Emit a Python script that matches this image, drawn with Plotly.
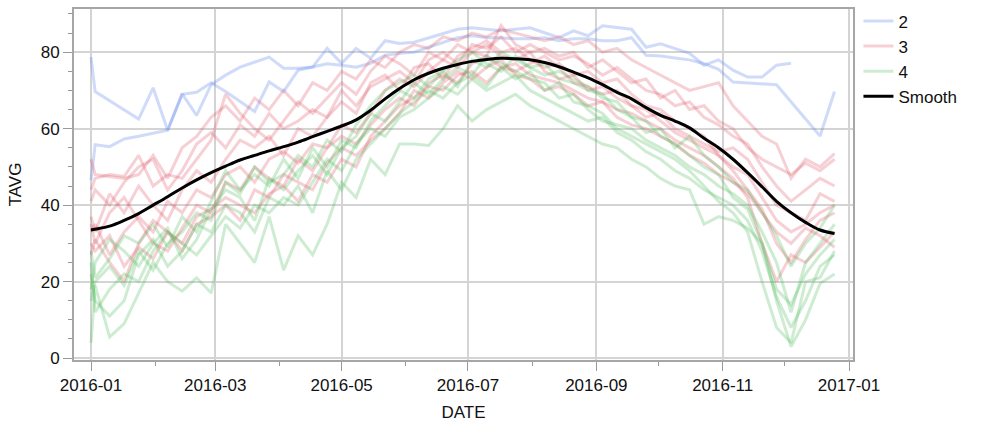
import datetime as dt
import plotly.graph_objects as go

# ---- dates: Jan 1 then weekly Sundays (Jan 3 .. Dec 25, 2016)
dates = [dt.date(2016, 1, 1)] + [dt.date(2016, 1, 3) + dt.timedelta(days=7 * i) for i in range(52)]

# ---- group 2 (blue)
blue_a = [78.7, 69.7, None, None, 62.5, 70.7, 59.6, 69.1, 63.5, 71.5,
          74, 76.1, None, 78.7, 75.8, 75.8, 76.1, 81, 77.1, 81,
          78.4, 83, 82.3, 82.6, 83.8, 84.8, 86, 86.4, 86, 85.6,
          86, 86.4, 85.1, 83.8, 85.6, 84.3, 86.9, 86.4, 86, 81.3,
          82.2, None, 79.7, 76.6, 78, 75.3, 73.5, 73.5, 76.6, 77.1,
          None, None, None]
blue_b = [46.5, 55.8, 55.3, 57.3, 58, None, 59.6, 69, 69.5, 72,
          69.7, 67.1, 64.5, 72.2, 69.7, 75.3, 76.1, 77, 76.6, 76.1,
          77.1, 79.2, 79.7, 80, 81.3, 82.6, 83.8, 84.3, 83.8, 83.8,
          83.5, 83.5, 83.8, 83, 83.5, 83.5, 83, 83, 83.8, 79.2,
          79, 78.5, 78, 77, 75.5, 72.2, None, None, 71.5, None,
          None, 58.1, 69.7]

# ---- group 3 (red)
red_1 = [52, 48, 47.5, 47, 48, 53, 47, 55, 58, 63,
         66, 62, 68, 65, 70, 66, 72, 70, 75, 73,
         78, 76, 80, 82, 81, 84, 83, 85, 84, 86,
         85, 84, 83, 84, 82, 83, 80, 81, 78, 76,
         74, 72, 70, 71, 72, 66, 62, 58, 56, 47,
         52, 50, 53.5]
red_2 = [44, 47, 48, 47.5, 53, 45, 48, 47, 52, 57,
         69, 64, 60, 57, 62, 67, 64, 68, 72, 69,
         75, 79, 77, 74, 80, 78, 82, 80, 79, 87,
         82, 80, 81, 79, 80, 76, 78, 75, 72, 73,
         68, 70, 65, 66, 62, 60, 55, 52, 50, 48,
         51, 49, 52]
red_3 = [37, 33, 43, 38, 45, 40, 36, 44, 49, 46,
         52, 57, 55, 58, 53, 60, 58, 63, 67, 64,
         72, 74, 70, 76, 77, 73, 79, 81, 83, 80,
         81, 78, 76, 77, 74, 75, 72, 73, 69, 66,
         65, 62, 60, 58, 53, 50, 48, 42, 36, 33,
         35, 38, 40]
red_4 = [33, 35, 27, 33, 37, 33, 41, 38, 44, 42,
         48, 50, 46, 52, 54, 51, 56, 55, 61, 59,
         64, 70, 73, 71, 75, 78, 76, 80, 82, 79,
         78, 80, 75, 73, 74, 70, 71, 68, 66, 65,
         62, 59, 57, 55, 53, 49, 44, 39, 30, 25,
         31, 36, 38]
red_5 = [30, 28, 32, 24, 29, 26, 33, 30, 37, 39,
         42, 40, 38, 43, 45, 41, 48, 46, 52, 50,
         58, 62, 66, 68, 71, 70, 74, 75, 72, 76,
         77, 74, 73, 72, 70, 68, 67, 65, 64, 62,
         60, 57, 55, 53, 50, 47, 42, 30, 20, 27,
         25, 29, 33]
red_6 = [35, 30, 38, 42, 36, 30, 28, 34, 40, 38,
         46, 44, 50, 47, 45, 52, 49, 55, 58, 56,
         61, 65, 68, 66, 72, 74, 72, 77, 79, 76,
         75, 77, 79, 76, 72, 71, 69, 70, 66, 63,
         64, 60, 58, 56, 54, 55, 52, 46, 40, 38,
         36, 43, 41]
red_7 = [41, 44, 40, 46, 50, 52, 44, 49, 56, 59,
         55, 61, 58, 64, 60, 62, 65, 63, 70, 66,
         71, 73, 75, 72, 78, 80, 77, 82, 81, 84,
         80, 82, 80, 78, 79, 77, 74, 76, 73, 70,
         69, 66, 67, 63, 61, 58, 56, 50, 45, 41,
         44, 47, 45]
red_8 = [27, 31, 25, 20, 30, 36, 33, 28, 35, 37,
         40, 36, 44, 42, 48, 46, 44, 51, 55, 53,
         57, 60, 64, 70, 68, 72, 75, 73, 76, 78,
         74, 73, 70, 71, 69, 66, 67, 63, 61, 60,
         58, 56, 53, 51, 48, 46, 43, 38, 33, 30,
         34, 32, 29]

# ---- group 4 (green)
green_1 = [4, 19, 5.5, 9, 17, 25, 20, 17.5, 21, 17,
           35, 30, 25, 37, 23, 32, 27, 35, 46, 42,
           52, 48, 56, 56, 55.6, 60, 66, 62, 65, 67,
           69, 66, 64, 62, 60, 58, 56, 55, 52, 50,
           47, 45, 44, 35, 37, 36, 34, 30, 15, 3,
           10, 19.5, 22]
green_2 = [22, 15, 11, 15, 27, 31, 24, 28, 35, 33,
           40, 38, 33, 42, 40, 45, 38, 49, 44, 52,
           56, 60, 64, 67, 70, 68, 72, 74, 71, 76,
           73, 75, 70, 72, 67, 66, 64, 60, 58, 56,
           54, 52, 49, 45, 41, 38, 33, 20, 8, 4,
           20, 21, 28]
green_3 = [28, 21, 26, 32, 30, 35, 29, 37, 33, 41,
           49, 44, 48, 45, 52, 47, 55, 50, 57, 55,
           62, 66, 70, 68, 73, 75, 71, 78, 76, 80,
           78, 76, 77, 73, 72, 70, 69, 65, 63, 62,
           58, 56, 53, 50, 48, 42, 39, 30, 18, 14,
           22, 27, 31]
green_4 = [18, 25, 31, 28, 24, 30, 34, 26, 31, 39,
           44, 42, 36, 47, 44, 49, 53, 48, 55, 58,
           64, 62, 67, 72, 69, 73, 76, 74, 79, 77,
           75, 73, 72, 68, 69, 65, 62, 61, 60, 57,
           55, 53, 50, 48, 45, 43, 40, 33, 25, 12,
           25, 30, 35]
green_5 = [25, 12, 18, 22, 20, 28, 33, 30, 27, 32,
           37, 34, 40, 38, 42, 40, 46, 52, 49, 56,
           60, 58, 63, 65, 68, 71, 69, 73, 70, 72,
           74, 70, 68, 66, 64, 62, 63, 59, 57, 54,
           52, 49, 47, 44, 42, 40, 36, 28, 16, 8,
           15, 24, 27]
green_6 = [15, 20, 24, 19, 28, 23, 30, 33, 38, 36,
           46, 43, 50, 46, 48, 53, 50, 57, 54, 61,
           66, 70, 72, 74, 71, 75, 78, 80, 77, 75,
           79, 76, 74, 75, 73, 71, 68, 67, 63, 59,
           60, 55, 58, 53, 50, 46, 44, 38, 32, 24,
           30, 34, 40]

# ---- smooth curve
smooth = [33.5, 33.7, 34.5, 36, 37.8, 40, 42.2, 44.5, 46.6, 48.5,
          50.2, 51.8, 53, 54.2, 55.3, 56.5, 57.9, 59.3, 60.7, 62.3,
          64.8, 67.8, 70.5, 72.8, 74.5, 75.8, 76.8, 77.6, 78.1, 78.4,
          78.3, 78, 77.3, 76.2, 74.8, 73.3, 71.5, 69.5, 67.8, 65.5,
          63.5, 62, 60.2, 57.5, 55, 52, 48.5, 44.8, 41, 38,
          35.5, 33.5, 32.6]

groups = [
    ("2", "rgba(95,135,235,0.30)", [blue_a, blue_b]),
    ("3", "rgba(222,80,95,0.27)", [red_1, red_2, red_3, red_4, red_5, red_6, red_7, red_8]),
    ("4", "rgba(75,185,85,0.27)", [green_1, green_2, green_3, green_4, green_5, green_6]),
]

fig = go.Figure()
for name, color, series in groups:
    for i, s in enumerate(series):
        assert len(s) == len(dates), (name, i, len(s))
        fig.add_trace(go.Scatter(
            x=dates, y=s, mode="lines", name=name, legendgroup=name,
            showlegend=(i == 0), connectgaps=True,
            line=dict(color=color, width=3),
        ))
assert len(smooth) == len(dates)
fig.add_trace(go.Scatter(
    x=dates, y=smooth, mode="lines", name="Smooth",
    line=dict(color="black", width=3, shape="spline"),
))

font_family = "Liberation Sans, Arial, sans-serif"
axis_common = dict(
    showline=True, linecolor="#a6a6a6", linewidth=2, mirror=True,
    showgrid=True, gridcolor="#d4d4d4", gridwidth=1.5,
    ticks="outside", ticklen=9, tickcolor="#999999", tickwidth=1,
    zeroline=False, tickfont=dict(size=17, color="#111"), automargin=False,
)
fig.update_layout(
    width=999, height=433,
    margin=dict(l=74, r=146, t=3, b=73),
    paper_bgcolor="white", plot_bgcolor="white",
    font=dict(family=font_family, size=17, color="#111"),
    legend=dict(x=1.007, y=1.016, xanchor="left", yanchor="top",
                font=dict(size=17), tracegroupgap=0, bgcolor="rgba(0,0,0,0)"),
    showlegend=True,
)
fig.update_xaxes(
    **axis_common,
    range=[dt.datetime(2015, 12, 23, 19), dt.datetime(2017, 1, 2, 22)],
    dtick="M2", tick0="2016-01-01", tickformat="%Y-%m",
    minor=dict(dtick="M1", ticks="outside", ticklen=4, tickcolor="#999999", showgrid=False),
    title=dict(text="DATE", standoff=12, font=dict(size=17)),
)
fig.update_yaxes(
    **axis_common,
    range=[-0.5, 91.3], dtick=20, tick0=0,
    minor=dict(dtick=5, ticks="outside", ticklen=4, tickcolor="#999999", showgrid=False),
    title=dict(text="TAVG", standoff=15, font=dict(size=17)),
)
fig.write_html("out.html", config={"displayModeBar": False},
               post_script="document.body.style.margin='0';")
